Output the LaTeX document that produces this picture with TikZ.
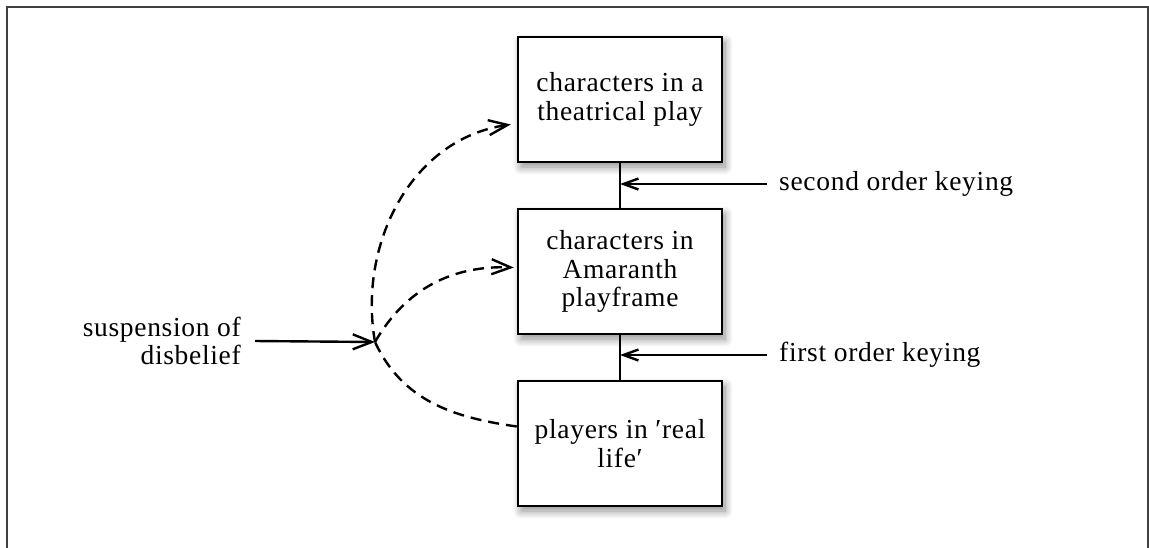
\documentclass[tikz,border=0pt]{standalone}
\usepackage{fontspec}
\setmainfont{Liberation Serif}[LetterSpace=2.5]
\usetikzlibrary{arrows.meta, positioning, shadows.blur}

\tikzset{
    layer/.style={draw, line width=2.4pt, fill=white, align=center,
        minimum width=204pt, minimum height=125pt, inner sep=0pt,
        blur shadow={shadow xshift=3pt, shadow yshift=-5pt,
            shadow blur steps=12, shadow blur radius=8pt, shadow opacity=45}},
    lbl/.style={inner sep=0pt},
    barb/.style={-{Straight Barb[length=19pt, width=15pt, line width=2.4pt]}},
    key/.style={-{Straight Barb[length=15pt, width=11pt, line width=2.4pt]}},
    leap/.style={barb, line width=2.4pt, dash pattern=on 11pt off 7pt},
}

\begin{document}
\begin{tikzpicture}[x=1pt, y=1pt, node distance=172pt, on grid,
    font=\fontsize{27.5}{28.5}\selectfont]
    \useasboundingbox (0,0) rectangle (1149,-547);
    \draw[black!75, line width=1.4pt] (7,-7) rectangle (1148,-600);

    \node[layer] (play) at (620,-99.5) {characters in a\\theatrical play};
    \node[layer] (playframe) [below=of play] {characters in\\Amaranth\\playframe};
    \node[layer] (life) [below=of playframe] {players in ′real\\life′};

    \draw[line width=2.4pt] (play.south) -- (playframe.north)
        (playframe.south) -- (life.north);

    \node[lbl, anchor=west] (second) at (779,-184) {second order keying};
    \node[lbl, anchor=west] (first) at (779,-355) {first order keying};
    \node[lbl, anchor=east, align=right] (susp) at (241,-341) {suspension of\\disbelief};

    \draw[key, line width=2.4pt] ([xshift=-12pt]second.west) -- (second.west -| play.south);
    \draw[key, line width=2.4pt] ([xshift=-12pt]first.west) -- (first.west -| play.south);

    \coordinate (j) at (375,-342);
    \draw[barb, line width=2.4pt] ([xshift=14pt]susp.east) -- (j);

    \draw[line width=2.4pt, dash pattern=on 11pt off 7pt]
        ([yshift=17pt]life.west) to[out=172, in=-65] (j);
    \draw[leap] (j) to[out=100, in=188] ([xshift=-6pt, yshift=-25pt]play.west);
    \draw[leap] (j) to[out=60, in=178] ([xshift=-3pt, yshift=4pt]playframe.west);
\end{tikzpicture}
\end{document}
